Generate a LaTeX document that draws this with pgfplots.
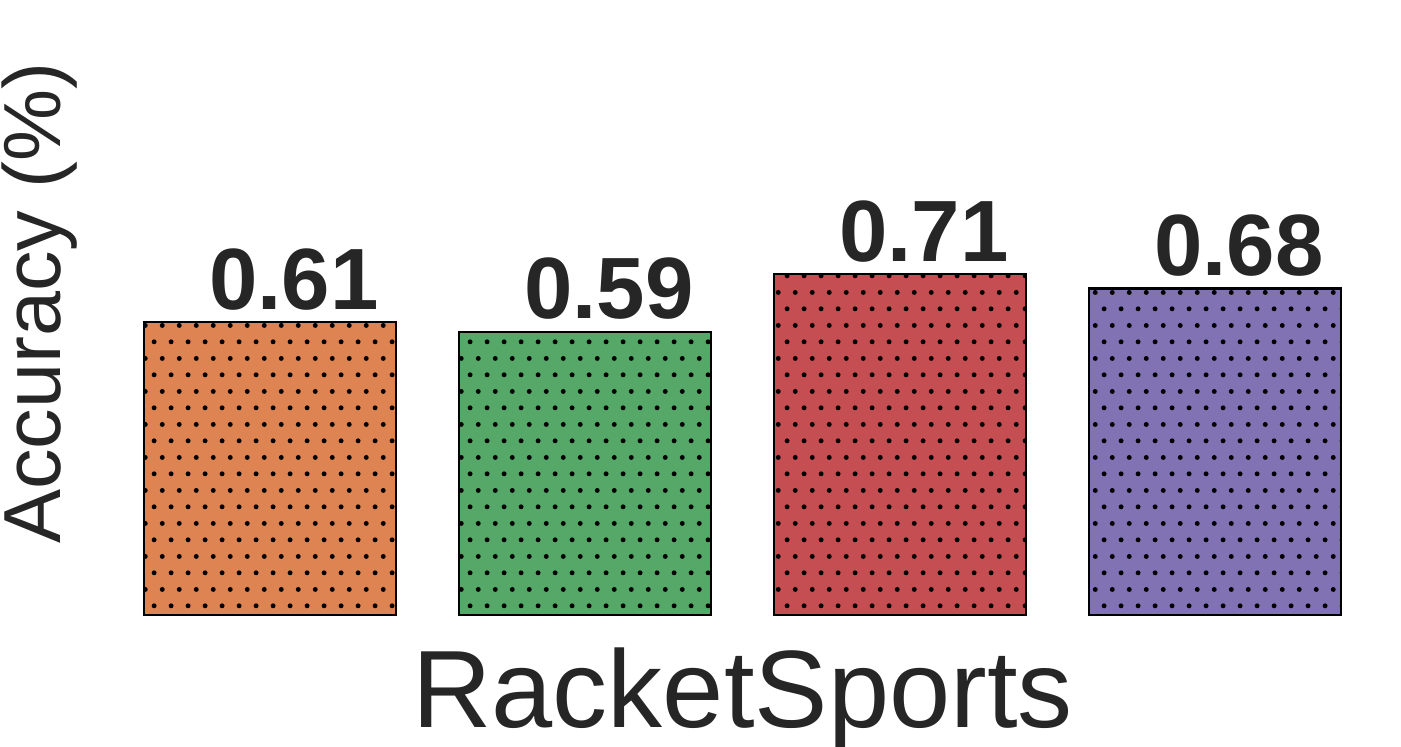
\documentclass[border=0pt]{standalone}
\usepackage{fontspec}
\setmainfont{Liberation Sans}
\usepackage{pgfplots}
\pgfplotsset{compat=1.18}
\usetikzlibrary{patterns}
\definecolor{cOrange}{HTML}{DD8452}
\definecolor{cGreen}{HTML}{55A868}
\definecolor{cRed}{HTML}{C44E52}
\definecolor{cPurple}{HTML}{8172B3}
\definecolor{txt}{HTML}{262626}
% staggered dot grid, as the hatch in the reference
\pgfdeclarepatternformonly{stagdots}{\pgfqpoint{0pt}{0pt}}{\pgfqpoint{8.333pt}{16.667pt}}{\pgfqpoint{8.333pt}{16.667pt}}{
  \pgfpathcircle{\pgfqpoint{2.083pt}{4.167pt}}{1.25pt}
  \pgfpathcircle{\pgfqpoint{6.25pt}{12.5pt}}{1.25pt}
  \pgfusepath{fill}
}
\pgfplotsset{
  dotbar/.style={fill=#1, draw=black, line width=1.2pt, postaction={pattern=stagdots}},
}
\begin{document}
\begin{tikzpicture}
\path[use as bounding box] (-56.25pt,-65.5pt) rectangle (644.25pt,307.5pt);
\begin{axis}[
    at={(0,0)}, anchor=south west, scale only axis,
    width=630pt, height=307.5pt,
    xmin=-0.5, xmax=3.5, ymin=0, ymax=1.281,
    axis line style={draw=none}, xtick=\empty, ytick=\empty,
    clip=false,
    ybar, bar width=0.8, bar shift=0pt,
    xlabel={RacketSports},
    ylabel={Accuracy (\%)},
    xlabel style={at={(axis description cs:0.5,-0.1837)}, anchor=base, font=\fontsize{55}{60}\selectfont, text=txt},
    ylabel style={at={(axis description cs:-0.0409,0.5073)}, anchor=base, rotate=0, font=\fontsize{40.5}{44}\selectfont, text=txt},
    nodes near coords={\pgfmathprintnumber[fixed,fixed zerofill,precision=2,assume math mode=true]{\pgfplotspointmeta}},
    every node near coord/.append style={anchor=base, xshift=12pt, yshift=6.5pt, font=\fontsize{43.5}{48}\selectfont\bfseries, text=txt},
]
\addplot[dotbar=cOrange] coordinates {(0,0.61)};
\addplot[dotbar=cGreen] coordinates {(1,0.59)};
\addplot[dotbar=cRed] coordinates {(2,0.71)};
\addplot[dotbar=cPurple] coordinates {(3,0.68)};
\end{axis}
\end{tikzpicture}
\end{document}
